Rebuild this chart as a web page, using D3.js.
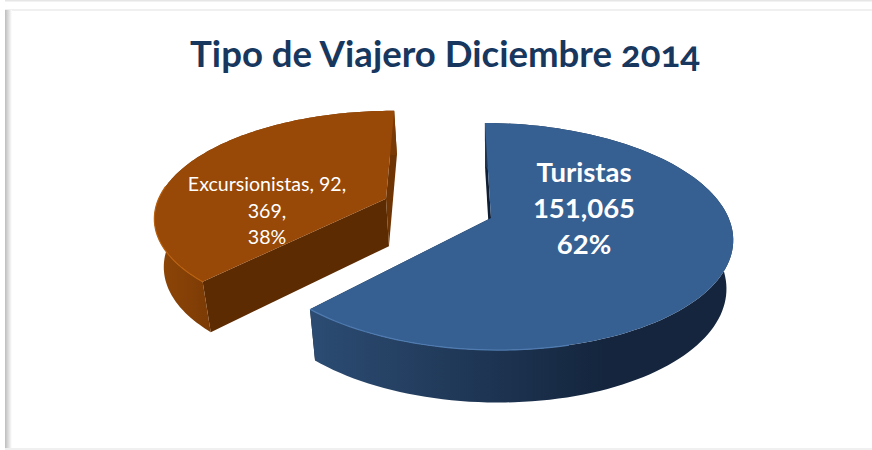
<!DOCTYPE html>
<html>
<head>
<meta charset="utf-8">
<script src="https://cdn.jsdelivr.net/npm/d3@7"></script>
<style>
  html, body { margin: 0; padding: 0; background: #fff; }
  svg { display: block; }
  text { font-family: Lato, "Open Sans", sans-serif; }
</style>
</head>
<body>
<div id="chart"></div>
<script>
// Data
const categories = ['Turistas', 'Excursionistas'];
const values = [151065, 92369];
const titleText = 'Tipo de Viajero Diciembre 2014';
const labelLines = [
  ['Turistas', '151,065', '62%'],
  ['Excursionistas, 92,', '369,', '38%'],
];

const width = 872, height = 450;

// tilted pie: camera settings worked out from the picture
const view = { x: 491, y: 218, rx: 239, ry: 110.5, k: 0.163, shear: 0.015, depth: 48, shrink: 0.972 };
const explode = [0, 0.48];
const radius = [1, 0.97];
const startAngle = -1.7 * Math.PI / 180;

const colors = [
  { top: '#376092', rim: '#4f7bb0', side: '#14253d', sideLight: '#2c4c73', inner: '#0f1e33', sliver: '#0f1e33', wallStop: '70%' },
  { top: '#984807', rim: '#b9600f', side: '#7a3a05', sideLight: '#8f4607', inner: '#5c2b02', sliver: '#6e3404', wallStop: '25%' },
];

const svg = d3.select('#chart').append('svg')
  .attr('width', width)
  .attr('height', height);

const defs = svg.append('defs');

// frame shadow on the left edge
const frameGrad = defs.append('linearGradient').attr('id', 'frameLeft');
frameGrad.append('stop').attr('offset', '0%').attr('stop-color', '#bdbdbd');
frameGrad.append('stop').attr('offset', '100%').attr('stop-color', '#ffffff');

colors.forEach((c, i) => {
  const g = defs.append('linearGradient').attr('id', 'wall' + i);
  g.append('stop').attr('offset', '0%').attr('stop-color', c.sideLight);
  g.append('stop').attr('offset', c.wallStop).attr('stop-color', c.side);
  g.append('stop').attr('offset', '100%').attr('stop-color', c.side);
});

// frame
svg.append('rect').attr('x', 5).attr('y', 0).attr('width', 867).attr('height', 1.5).attr('fill', '#e6e6e6');
svg.append('rect').attr('x', 5).attr('y', 9).attr('width', 867).attr('height', 2).attr('fill', '#f0f0f0');
svg.append('rect').attr('x', 5).attr('y', 10).attr('width', 7).attr('height', 440).attr('fill', 'url(#frameLeft)');
svg.append('rect').attr('x', 5).attr('y', 448).attr('width', 867).attr('height', 2).attr('fill', '#f0f0f0');

// title
svg.append('text')
  .attr('x', 445)
  .attr('y', 67)
  .attr('text-anchor', 'middle')
  .attr('font-size', 36.6)
  .attr('font-weight', 700)
  .attr('fill', '#17375e')
  .style('font-feature-settings', '"onum"')
  .text(titleText);

// Slices
const pie = d3.pie().sort(null).startAngle(startAngle).endAngle(startAngle + 2 * Math.PI);
const arcs = pie(values);

function project(u, v) {
  const w = 1 + view.k * v;
  const x = view.x + view.rx * u / w;
  return { x: x, y: view.y - view.ry * v / w + view.shear * (x - view.x), w: w };
}
function lower(p) {
  return [
    view.x + (p.x - view.x) * view.shrink,
    p.y + view.depth / Math.sqrt(p.w),
  ];
}
const line = d3.line();

arcs.forEach((d, i) => {
  const c = colors[i];
  const mid = (d.startAngle + d.endAngle) / 2;
  const u0 = explode[i] * Math.sin(mid), v0 = explode[i] * Math.cos(mid);
  const r = radius[i];

  const steps = d3.range(0, 121).map((s) => d.startAngle + (d.endAngle - d.startAngle) * s / 120);
  const rim = steps.map((a) => project(u0 + r * Math.sin(a), v0 + r * Math.cos(a)));
  const apex = project(u0, v0);
  const rimXY = rim.map((p) => [p.x, p.y]);
  const rimLow = rim.map(lower);

  const g = svg.append('g').attr('class', 'slice ' + categories[i]);

  // inner cut faces
  [[rim[0], c.inner], [rim[rim.length - 1], c.sliver]].forEach(([p, fill]) => {
    g.append('path')
      .attr('d', line([[p.x, p.y], lower(p), lower(apex), [apex.x, apex.y]]) + 'Z')
      .attr('fill', fill);
  });

  // outer wall
  g.append('path')
    .attr('d', line(rimXY.concat(rimLow.slice().reverse())) + 'Z')
    .attr('fill', 'url(#wall' + i + ')');

  // top
  g.append('path')
    .attr('d', line([[apex.x, apex.y]].concat(rimXY)) + 'Z')
    .attr('fill', c.top);

  // bevel only along the front of the rim
  const front = rimXY.filter((p, j) => Math.cos(steps[j]) < -0.3 && Math.sin(steps[j]) < 0.3
    || (i == 1 && Math.cos(steps[j]) < 0.1 && Math.sin(steps[j]) < 0));
  g.append('path')
    .attr('d', line(front))
    .attr('fill', 'none')
    .attr('stroke', c.rim)
    .attr('stroke-width', 1.2);
});

// Labels
const labelStyle = [
  { x: 584, y: 182, size: 27.5, weight: 700, gap: 36 },
  { x: 267, y: 191, size: 19.6, weight: 400, gap: 26.5 },
];
labelLines.forEach((lines, i) => {
  const s = labelStyle[i];
  svg.append('text')
    .attr('text-anchor', 'middle')
    .attr('font-size', s.size)
    .attr('font-weight', s.weight)
    .attr('fill', '#fff')
    .selectAll('tspan')
    .data(lines)
    .enter()
    .append('tspan')
    .attr('x', s.x)
    .attr('y', (d, j) => s.y + j * s.gap)
    .text((d) => d);
});
</script>
</body>
</html>
